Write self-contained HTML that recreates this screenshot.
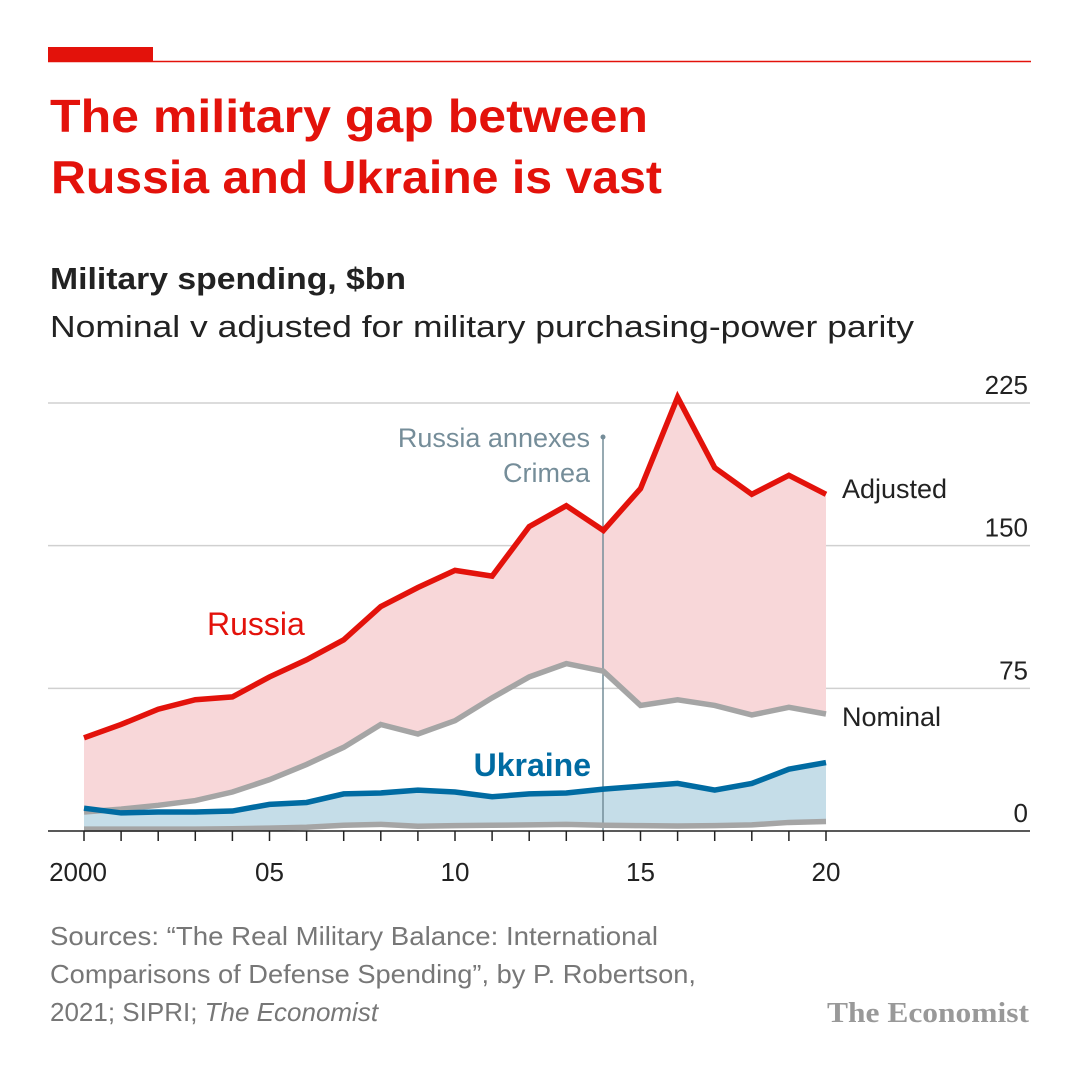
<!DOCTYPE html>
<html><head><meta charset="utf-8"><style>
html,body{margin:0;padding:0;background:#fff;}
svg{display:block;font-family:"Liberation Sans",sans-serif;}
</style></head><body>
<svg id="chart" width="1080" height="1080" viewBox="0 0 1080 1080">
<rect x="48" y="47" width="105" height="14" fill="#e3120b"/>
<line x1="48" y1="61.5" x2="1031" y2="61.5" stroke="#e3120b" stroke-width="1.5"/>
<text x="50" y="132" font-size="46" font-weight="bold" fill="#e3120b" textLength="598" lengthAdjust="spacingAndGlyphs">The military gap between</text>
<text x="51" y="193" font-size="46" font-weight="bold" fill="#e3120b" textLength="611" lengthAdjust="spacingAndGlyphs">Russia and Ukraine is vast</text>
<text x="50" y="289" font-size="31" font-weight="bold" fill="#222" textLength="356" lengthAdjust="spacingAndGlyphs">Military spending, $bn</text>
<text x="50" y="337" font-size="31" fill="#222" textLength="864" lengthAdjust="spacingAndGlyphs">Nominal v adjusted for military purchasing-power parity</text>
<g id="grid"></g>
<g id="areas"></g>
<line x1="603" y1="437" x2="603" y2="831" stroke="#758d99" stroke-width="1.5"/>
<circle cx="603" cy="437" r="2.5" fill="#758d99"/>
<g id="lines"></g>
<g id="xaxis"></g>
<text x="590" y="447" font-size="27" fill="#758d99" text-anchor="end">Russia annexes</text>
<text x="590" y="482" font-size="27" fill="#758d99" text-anchor="end">Crimea</text>
<text x="207" y="635" font-size="32" fill="#e3120b">Russia</text>
<text x="591" y="776" font-size="32" font-weight="bold" fill="#006ba2" text-anchor="end">Ukraine</text>
<text x="842" y="498" font-size="27" fill="#222">Adjusted</text>
<text x="842" y="726" font-size="27" fill="#222">Nominal</text>
<text x="50" y="945" font-size="26" fill="#777" textLength="608" lengthAdjust="spacingAndGlyphs">Sources: “The Real Military Balance: International</text>
<text x="50" y="983" font-size="26" fill="#777" textLength="646" lengthAdjust="spacingAndGlyphs">Comparisons of Defense Spending”, by P. Robertson,</text>
<text x="50" y="1021" font-size="26" fill="#777">2021; SIPRI; <tspan font-style="italic">The Economist</tspan></text>
<text x="1029" y="1022" font-size="29" font-weight="bold" fill="#999" text-anchor="end" font-family="Liberation Serif, serif" textLength="202" lengthAdjust="spacingAndGlyphs">The Economist</text>
</svg>
<script>
const years = [2000,2001,2002,2003,2004,2005,2006,2007,2008,2009,2010,2011,2012,2013,2014,2015,2016,2017,2018,2019,2020];
const russiaAdjusted = [49,56,64,69,70.5,81,90,100.5,118,128,137,134,160,171,158,180,228,191,177,187,177];
const russiaNominal = [10,11.5,13.5,16,20.5,27,35,44,56,51,58,70,81,88,84,66,69,66,61,65,61.5];
const ukraineAdjusted = [12,9.5,10,10,10.5,14,15,19.5,20,21.5,20.5,18,19.5,20,22,23.5,25,21.5,25,32.5,36];
const ukraineNominal = [1,1,1,1,1.2,1.5,2,3,3.5,2.5,2.8,3,3.2,3.5,3,2.8,2.6,2.8,3.2,4.5,5];
const yTicks = [0,75,150,225];
const xTickLabels = ["2000","05","10","15","20"];
const xTickYears = [2000,2005,2010,2015,2020];

const NS="http://www.w3.org/2000/svg";
const x = yr => 84 + (yr-2000)*(826-84)/20;
const y = v => 831 - v*(831-403)/225;
function mk(tag, attrs, parent){const e=document.createElementNS(NS,tag);for(const k in attrs)e.setAttribute(k,attrs[k]);document.getElementById(parent).appendChild(e);return e;}
yTicks.forEach(t=>{
  if(t>0){const l=mk('line',{x1:48,x2:1030,y1:y(t),y2:y(t),stroke:'#d0d0d0','stroke-width':1.5},'grid');
  
  }
  const tx=mk('text',{x:1028,y:y(t)-9,'font-size':26,fill:'#222','text-anchor':'end'},'grid');
  tx.textContent=t;
  
  
});
function band(top,bot,fill,name){
  let d='M'+years.map((yr,i)=>x(yr)+','+y(top[i])).join('L');
  d+='L'+years.slice().reverse().map((yr,j)=>{const i=years.length-1-j;return x(yr)+','+y(bot[i]);}).join('L')+'Z';
  const p=mk('path',{d:d,fill:fill},'areas');
  
  
}
band(russiaAdjusted,russiaNominal,'#f8d7d9','russia-gap-area');
band(ukraineAdjusted,ukraineNominal,'#c5dde8','ukraine-gap-area');
function line(vals,color,name){
  const d='M'+years.map((yr,i)=>x(yr)+','+y(vals[i])).join('L');
  const p=mk('path',{d:d,fill:'none',stroke:color,'stroke-width':5.5,'stroke-linejoin':'miter'},'lines');
  
  
}
line(ukraineNominal,'#a5a5a5','ukraine-nominal-line');
line(russiaNominal,'#a5a5a5','russia-nominal-line');
line(ukraineAdjusted,'#006ba2','ukraine-adjusted-line');
line(russiaAdjusted,'#e3120b','russia-adjusted-line');
const base=mk('line',{x1:48,x2:1030,y1:831,y2:831,stroke:'#222','stroke-width':1.5},'xaxis');


years.forEach(yr=>{
  const t=mk('line',{x1:x(yr),x2:x(yr),y1:831,y2:841,stroke:'#222','stroke-width':1.5},'xaxis');
  
  
});
xTickYears.forEach((yr,i)=>{
  const t=mk('text',{x:x(yr)-(i===0?6:0),y:881,'font-size':26,fill:'#222','text-anchor':'middle'},'xaxis');
  t.textContent=xTickLabels[i];
  
  
});
</script>
</body></html>
